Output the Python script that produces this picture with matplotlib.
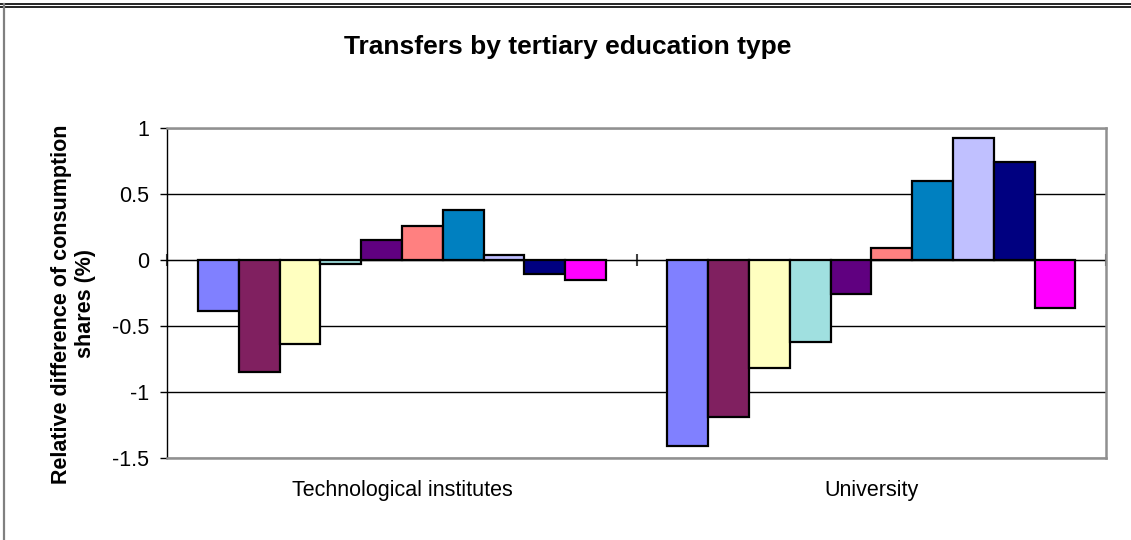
import matplotlib.pyplot as plt
from matplotlib.lines import Line2D
import numpy as np

plt.rcParams['font.family'] = ['Liberation Sans', 'DejaVu Sans']
plt.rcParams['axes.unicode_minus'] = False

# data
categories = ['Technological institutes', 'University']
tech_values = [-0.39, -0.85, -0.635, -0.028, 0.151, 0.257, 0.38, 0.04, -0.106, -0.154]
univ_values = [-1.406, -1.19, -0.816, -0.62, -0.257, 0.09, 0.60, 0.922, 0.741, -0.366]
series_colors = ['#8080FF', '#802060', '#FFFFC0', '#A0E0E0', '#600080',
                 '#FF8080', '#0080C0', '#C0C0FF', '#000080', '#FF00FF']
y_ticks = [-1.5, -1, -0.5, 0, 0.5, 1]

n_series = len(series_colors)
bar_w = 1 / (n_series + 1.5)
x = np.arange(len(categories))

fig = plt.figure(figsize=(11.31, 5.4), dpi=100)
ax = fig.add_axes([167.3 / 1131, 1 - 458 / 540, (1106 - 167.3) / 1131, (458 - 128) / 540])

for i in range(n_series):
    vals = [tech_values[i], univ_values[i]]
    offs = (i - (n_series - 1) / 2) * bar_w
    ax.bar(x + offs, vals, width=bar_w, color=series_colors[i],
           edgecolor='black', linewidth=1.6, zorder=3)

ymin, ymax = -1.5, 1
ax.set_ylim(ymin, ymax)
ax.set_xlim(-0.5, len(categories) - 0.5)
ax.set_yticks(y_ticks)
ax.set_yticklabels(['%g' % t for t in y_ticks], fontsize=15.5)
ax.yaxis.grid(True, color='black', linewidth=1)
ax.set_axisbelow(True)
ax.tick_params(axis='y', direction='out', length=5, width=1, pad=8, color='black')

ax.set_xticks(x)
ax.set_xticklabels(categories, fontsize=15.5)
ax.tick_params(axis='x', length=0, pad=16)

for s in ['top', 'right', 'bottom']:
    ax.spines[s].set_color('#909090')
    ax.spines[s].set_linewidth(1.8)
ax.spines['left'].set_color('black')
ax.spines['left'].set_linewidth(1)

# category axis crossing at zero
zero_loc = (0 - ymin) / (ymax - ymin)
sec = ax.secondary_xaxis(zero_loc)
sec.set_xticks(np.arange(-0.5, len(categories), 1.0))
sec.set_xticklabels([])
sec.tick_params(direction='inout', length=8, width=1.5, color='#404040')
sec.spines['bottom'].set_color('#303030')
sec.spines['bottom'].set_linewidth(1)

ax.set_ylabel('Relative difference of consumption\nshares (%)', fontsize=15.5,
              fontweight='bold', linespacing=1.2)
ax.yaxis.set_label_coords(-0.076, 0.467)

fig.text(568 / 1131, 1 - 47 / 540, 'Transfers by tertiary education type',
         ha='center', va='center', fontsize=19, fontweight='bold')

# outer chart frame (partially visible)
fig.add_artist(Line2D([0, 1], [1 - 4.3 / 540, 1 - 4.3 / 540], color='black', linewidth=1.2))
fig.add_artist(Line2D([0, 1], [1 - 6.6 / 540, 1 - 6.6 / 540], color='black', linewidth=1.2))
fig.add_artist(Line2D([3.5 / 1131, 3.5 / 1131], [0, 1 - 4.3 / 540], color='#808080', linewidth=1.6))

fig.savefig('out.png', dpi=100, facecolor='white')
